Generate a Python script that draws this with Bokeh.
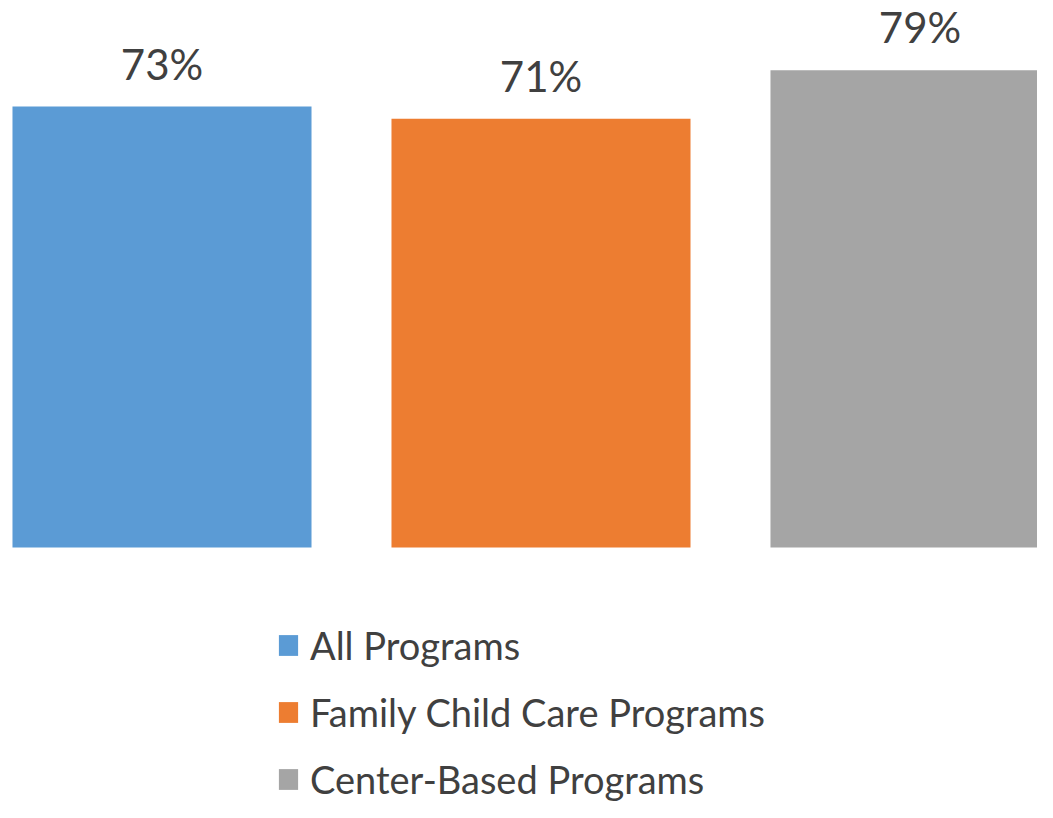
from bokeh.plotting import figure
from bokeh.models import ColumnDataSource, Range1d, Legend, LegendItem
from bokeh.core.properties import value
from bokeh.embed import file_html
from bokeh.resources import INLINE

categories = ["All Programs", "Family Child Care Programs", "Center-Based Programs"]
values = [73, 71, 79]
labels = ["73%", "71%", "79%"]
colors = ["#5B9BD5", "#ED7D31", "#A5A5A5"]

FONT = "Lato"
TEXT_COLOR = "#404040"

xs = list(range(len(categories)))
src = ColumnDataSource(dict(x=xs, top=values, label=labels, color=colors, cat=categories))

p = figure(width=1037, height=802, output_backend="svg", toolbar_location=None,
           x_range=Range1d(-0.42612, 2.31003), y_range=Range1d(-42.22, 90.56),
           min_border=0, min_border_left=0, min_border_right=0,
           min_border_top=0, min_border_bottom=0)
p.axis.visible = False
p.grid.visible = False
p.outline_line_color = None
p.background_fill_color = "white"
p.border_fill_color = "white"

renderers = []
for i in xs:
    s = ColumnDataSource(dict(x=[xs[i]], top=[values[i]], color=[colors[i]]))
    r = p.vbar(x="x", top="top", bottom=0, width=0.789, color="color", source=s, line_color=None)
    renderers.append(r)

p.text(x="x", y="top", text="label", source=src, text_align="center",
       text_baseline="alphabetic", y_offset=-43, text_font=value(FONT),
       text_font_size="42px", text_color=TEXT_COLOR)

legend = Legend(items=[LegendItem(label=categories[i], renderers=[renderers[i]]) for i in xs],
                location=(276, 0), orientation="vertical",
                glyph_width=24, glyph_height=26, label_height=26, spacing=21,
                label_standoff=10, padding=0, margin=0,
                border_line_color=None, background_fill_alpha=0,
                label_text_font=FONT, label_text_font_size="38px",
                label_text_color=TEXT_COLOR)
p.add_layout(legend, "center")

open("out.html", "w").write(file_html(p, INLINE))
